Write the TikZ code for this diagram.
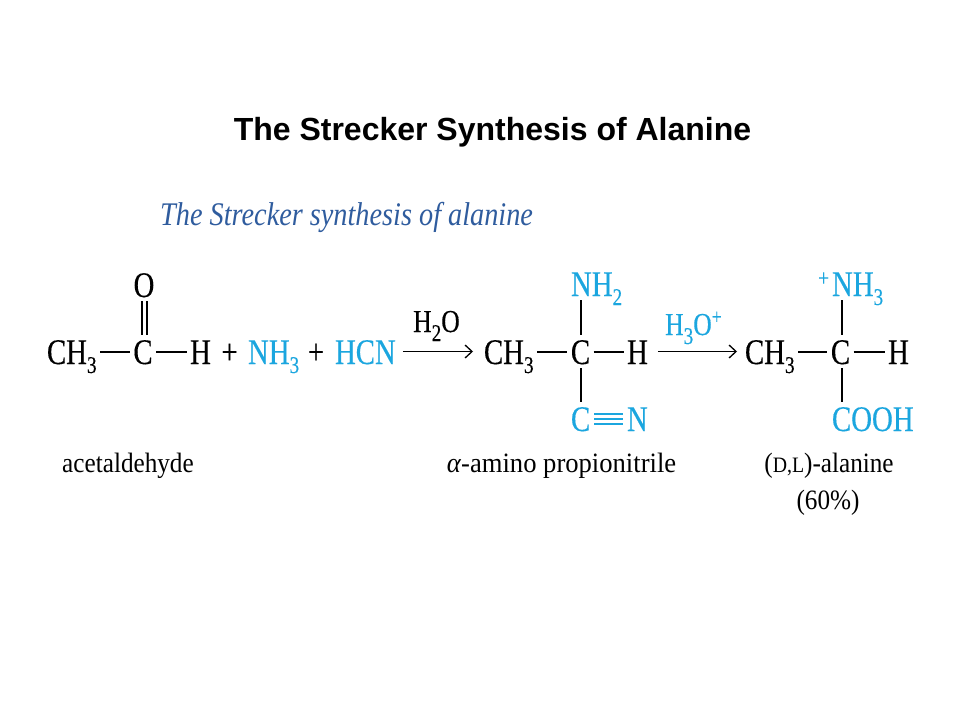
\documentclass[tikz,border=0pt]{standalone}
\usepackage{fontspec}
\setmainfont{Liberation Serif}
\newfontfamily\chemfont[FakeStretch=0.8,FakeBold=0.3]{Liberation Serif}
\newfontfamily\labelfont[FakeStretch=0.9,ItalicFont={Liberation Serif Italic},ItalicFeatures={FakeStretch=0.95}]{Liberation Serif}
\newfontfamily\widelabelfont[FakeStretch=0.95]{Liberation Serif}
\newfontfamily\subheadfont[FakeStretch=0.857]{Liberation Serif Italic}
\newfontfamily\headfont{Liberation Sans}
\newcommand{\lowsub}[1]{\raisebox{-9pt}{\fontsize{24}{24}\selectfont #1}}
\newcommand{\highsup}[1]{\raisebox{11pt}{\fontsize{22}{22}\selectfont #1}}
\usetikzlibrary{arrows.meta}
\definecolor{cyanchem}{HTML}{1BA6DF}
\definecolor{bluehead}{HTML}{2F5C9E}
\tikzset{
  atom/.style={inner sep=0pt,outer sep=0pt,text height=25pt,text depth=0pt,font=\chemfont\fontsize{36}{36}\selectfont},
  newatom/.style={atom,text=cyanchem},
  smallreag/.style={inner sep=0pt,anchor=base west,font=\chemfont\fontsize{32}{32}\selectfont},
  caption/.style={inner sep=0pt,anchor=base,font=\labelfont\fontsize{28}{28}\selectfont},
  bond/.style={line width=2pt,black,shorten <=3.5pt,shorten >=3.5pt},
  vbond/.style={line width=1.5pt,black,shorten <=4pt,shorten >=4pt},
  triplebond/.style={line width=1.7pt,cyanchem,shorten <=4pt,shorten >=4pt},
  rxnarrow/.style={line width=1.3pt,black,-{Straight Barb[length=7pt,width=13pt]}},
}
\begin{document}
\begin{tikzpicture}[x=1pt,y=-1pt]
\useasboundingbox[fill=white] (0,0) rectangle (960,720);
% titles
\node[inner sep=0pt,anchor=base,font=\headfont\bfseries\fontsize{32}{32}\selectfont] (title) at (492.5,140.5) {The Strecker Synthesis of Alanine};
\node[inner sep=0pt,anchor=base west,text=bluehead,font=\subheadfont\fontsize{33}{33}\selectfont] (sub) at (160,225) {The Strecker synthesis of alanine};
% acetaldehyde
\node[atom,anchor=west] (ch1) at (47,351.5) {CH\lowsub{3}};
\node[atom] (c1) at (143,351.5) {C};
\node[atom] (h1) at (200.5,351.5) {H};
\node[atom] (o1) at (144,284.5) {O};
\node[atom] (p1) at (229.5,351.5) {+};
\node[newatom,anchor=west] (nh1) at (248,351.5) {NH\lowsub{3}};
\node[atom] (p2) at (316,351.5) {+};
\node[newatom,anchor=west] (hcn) at (335,351.5) {HCN};
\draw[bond] (ch1.east) -- (c1.west);
\draw[bond] (c1.east) -- (h1.west);
\draw[vbond,transform canvas={xshift=-2pt}] (o1.south) -- (o1.south |- c1.north);
\draw[vbond,transform canvas={xshift=3pt}] (o1.south) -- (o1.south |- c1.north);
% amino nitrile
\node[atom,anchor=west] (ch2) at (484,351.5) {CH\lowsub{3}};
\node[atom] (c2) at (580.5,351.5) {C};
\node[atom] (h2) at (637.5,351.5) {H};
\node[newatom,anchor=west] (nh2) at (571,283.5) {NH\lowsub{2}};
\coordinate (nhb) at (581,296);
\node[newatom,anchor=west] (c3) at (571,418.5) {C};
\node[newatom,anchor=west] (n3) at (627,418.5) {N};
\draw[bond] (ch2.east) -- (c2.west);
\draw[bond] (c2.east) -- (h2.west);
\draw[vbond] (nhb) -- (nhb |- c2.north);
\draw[vbond] (nhb |- c2.south) -- (nhb |- c3.north);
\draw[triplebond] ([yshift=-5.5pt]c3.east) -- ([yshift=-5.5pt]n3.west);
\draw[triplebond] ([yshift=-.5pt]c3.east) -- ([yshift=-.5pt]n3.west);
\draw[triplebond] ([yshift=4.5pt]c3.east) -- ([yshift=4.5pt]n3.west);
% alanine
\node[atom,anchor=west] (ch4) at (745,351.5) {CH\lowsub{3}};
\node[atom] (c4) at (840.5,351.5) {C};
\node[atom] (h4) at (898.5,351.5) {H};
\node[newatom,anchor=west] (nh4) at (832,283.5) {NH\lowsub{3}};
\node[inner sep=0pt,anchor=base west,text=cyanchem,font=\chemfont\fontsize{24}{24}\selectfont] (plus) at (818,286) {+};
\coordinate (nh4b) at (842,296);
\node[newatom,anchor=west] (cooh) at (832,418.5) {COOH};
\draw[bond] (ch4.east) -- (c4.west);
\draw[bond] (c4.east) -- (h4.west);
\draw[vbond] (nh4b) -- (nh4b |- c4.north);
\draw[vbond] (nh4b |- c4.south) -- (nh4b |- cooh.north);
% arrows
\draw[rxnarrow,shorten <=7pt,shorten >=11pt] (hcn.east) -- (ch2.west);
\draw[rxnarrow,shorten <=10pt,shorten >=8pt] (h2.east) -- (ch4.west);
\node[smallreag] (water) at (413,332) {H\lowsub{2}O};
\node[smallreag,text=cyanchem] (hydron) at (665,335) {H\lowsub{3}O\highsup{+}};
% captions
\node[caption] (l1) at (128,472) {acetaldehyde};
\node[caption] (l2) at (561.5,472) {\widelabelfont\fontsize{28}{28}\selectfont\textit{α}-amino propionitrile};
\node[caption] (l3) at (829,472) {({\fontsize{22}{22}\selectfont D,L})-alanine};
\node[caption] (l4) at (828,509) {(60\%)};
\end{tikzpicture}
\end{document}
